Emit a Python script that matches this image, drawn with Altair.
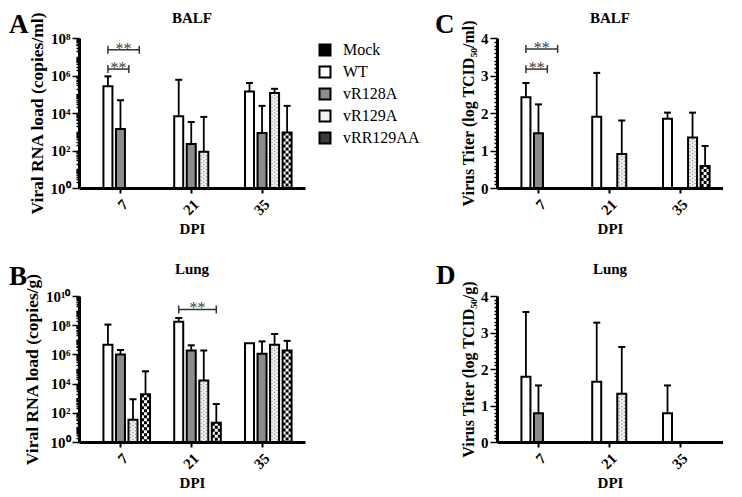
import altair as alt
import pandas as pd

GROUPS = ["Mock", "WT", "vR128A", "vR129A", "vRR129AA"]
FILLS = ["black", "white", "#8c8c8c", "#f0f0f0", "#3a3a3a"]
DPI_LABELS = ["7", "21", "35"]

# Panel A: BALF, viral RNA load (copies/ml)
A_dpi = ["7", "7", "21", "21", "21", "35", "35", "35", "35"]
A_group = ["WT", "vR128A", "WT", "vR128A", "vR129A", "WT", "vR128A", "vR129A", "vRR129AA"]
A_mean = [2.7e5, 1.4e3, 6.8e3, 2.2e2, 85, 1.4e5, 850, 1.15e5, 920]
A_upper = [9e5, 4.8e4, 5.9e5, 3.3e3, 6.2e3, 4e5, 2.4e4, 1.95e5, 2.4e4]
A_brk_dpi = ["7", "7"]
A_brk_from = [1.0, 1.0]
A_brk_to = [2.67, 3.5]
A_brk_y = [2.2e6, 2.35e7]

# Panel B: Lung, viral RNA load (copies/g)
B_dpi = ["7"] * 4 + ["21"] * 4 + ["35"] * 4
B_group = ["WT", "vR128A", "vR129A", "vRR129AA"] * 3
B_mean = [4.6e6, 1e6, 33, 1.85e3, 1.7e8, 1.85e6, 1.6e4, 21, 5.7e6, 1.1e6, 4.6e6, 1.85e6]
B_upper = [1.1e8, 2e6, 850, 7e4, 3.1e8, 4.2e6, 1.85e6, 400, 5.7e6, 7.8e6, 2.5e7, 8.5e6]
B_brk_dpi = ["21"]
B_brk_from = [1.0]
B_brk_to = [4.0]
B_brk_y = [1.2e9]

# Panel C: BALF, virus titer
C_dpi = ["7", "7", "21", "21", "35", "35", "35"]
C_group = ["WT", "vR128A", "WT", "vR129A", "WT", "vR129A", "vRR129AA"]
C_mean = [2.42, 1.46, 1.90, 0.91, 1.85, 1.35, 0.59]
C_upper = [2.80, 2.23, 3.07, 1.80, 2.01, 2.01, 1.12]
C_brk_dpi = ["7", "7"]
C_brk_from = [1.0, 1.0]
C_brk_to = [2.71, 3.53]
C_brk_y = [3.17, 3.71]

# Panel D: Lung, virus titer
D_dpi = ["7", "7", "21", "21", "35"]
D_group = ["WT", "vR128A", "WT", "vR129A", "WT"]
D_mean = [1.79, 0.79, 1.65, 1.32, 0.79]
D_upper = [3.56, 1.55, 3.27, 2.60, 1.55]

FONT = "Liberation Serif"
W = 226
H_TOP, H_BOT = 150, 146
BAR_W = 9
GROUP_STEP = 5.65
XDOM = [-0.91, 16.33]
SLOT = {g: i for i, g in enumerate(GROUPS)}


def pos(d, slot):
    return DPI_LABELS.index(d) * GROUP_STEP + slot


def bar_frame(dpis, groups, means, uppers, base):
    df = pd.DataFrame({"dpi": dpis, "group": groups, "mean": means, "upper": uppers})
    df["pos"] = [pos(d, SLOT[g]) for d, g in zip(dpis, groups)]
    df["base"] = base
    return df


def brk_frame(dpis, starts, ends, ys):
    df = pd.DataFrame({"dpi": dpis, "start": starts, "end": ends, "y": ys})
    df["x1"] = [pos(d, s) for d, s in zip(dpis, starts)]
    df["x2"] = [pos(d, e) for d, e in zip(dpis, ends)]
    df["mid"] = (df["x1"] + df["x2"]) / 2
    df["stars"] = "**"
    return df


centers = [pos(d, 2) for d in DPI_LABELS]
TICKS = pd.DataFrame({"c": centers, "lab": DPI_LABELS})

X_AXIS = alt.Axis(values=centers, labels=False, tickSize=5, tickWidth=2, domainWidth=3,
                  titleFontSize=15, titlePadding=27, grid=False, title="DPI")


def log_axis(max_exp, title):
    vals = []
    for k in range(max_exp):
        for m in range(1, 10):
            vals.append(m * 10 ** k)
    vals.append(10 ** max_exp)
    sup = "⁰¹²³⁴⁵⁶⁷⁸⁹"
    labs = ["10" + "".join(sup[int(c)] for c in str(e)) for e in range(max_exp + 1)]
    arr = "[" + ",".join(f"'{l}'" for l in labs) + "]"
    e = "log(datum.value)/LN10"
    dec = f"abs({e} - round({e})) < 0.001"
    lab = f"({dec}) && (round({e}) % 2 == 0)"
    return alt.Axis(values=vals, labelExpr=f"{lab} ? {arr}[round({e})] : ''",
                    tickSize={"condition": {"test": lab, "value": 7}, "value": 3},
                    tickWidth=1.5, domainWidth=3, labelFontSize=15, labelOverlap=False,
                    labelPadding=2, titleFontSize=17.5, titlePadding=4, grid=False, title=title)


def lin_axis(title):
    vals = [round(i * 0.1, 1) for i in range(41)]
    lab = "abs(datum.value - round(datum.value)) < 0.001"
    return alt.Axis(values=vals, labelExpr=f"{lab} ? format(datum.value, 'd') : ''",
                    tickSize={"condition": {"test": lab, "value": 7}, "value": 3},
                    tickWidth=1.5, domainWidth=3, labelFontSize=15, labelOverlap=False,
                    labelPadding=2, titleFontSize=16, titlePadding=4, grid=False, title=title)


def panel(df, brk, yscale, yaxis, H, letter, letter_xy, name, name_y, legend):
    def X(f):
        return alt.X(f, type="quantitative", scale=alt.Scale(domain=XDOM, nice=False, zero=False), axis=X_AXIS)

    def Y(f):
        return alt.Y(f, type="quantitative", scale=yscale, axis=yaxis)

    base = alt.Chart(df)
    color = alt.Color("group:N", scale=alt.Scale(domain=GROUPS, range=FILLS), legend=legend)
    layers = [base.mark_bar(width=BAR_W, strokeWidth=0).encode(x=X("pos"), y=Y("mean"), y2="base:Q", color=color)]

    chk = base.transform_filter(alt.datum.group == "vRR129AA")
    layers.append(chk.mark_rule(color="white", strokeWidth=BAR_W).encode(x=X("pos"), y=Y("mean"), y2="base:Q"))
    for off, doff in [(-3, 0), (0, 3), (3, 0)]:
        layers.append(chk.mark_rule(color="black", strokeWidth=3, strokeDash=[3, 3],
                                    strokeDashOffset=doff, xOffset=off)
                      .encode(x=X("pos"), y=Y("mean"), y2="base:Q"))
    dots = base.transform_filter(alt.datum.group == "vR129A")
    for off, doff in [(-2.5, 0), (0, 1.75), (2.5, 0)]:
        layers.append(dots.mark_rule(color="#6a6a6a", strokeWidth=1, strokeDash=[1, 2.5],
                                     strokeDashOffset=doff, xOffset=off)
                      .encode(x=X("pos"), y=Y("mean"), y2="base:Q"))

    layers.append(base.mark_bar(width=BAR_W, fill="white", fillOpacity=0, stroke="black", strokeWidth=2)
                  .encode(x=X("pos"), y=Y("mean"), y2="base:Q"))

    err = base.transform_filter(alt.datum.upper > alt.datum.mean)
    layers.append(err.mark_rule(color="black", strokeWidth=1.8).encode(x=X("pos"), y=Y("mean"), y2="upper:Q"))
    layers.append(err.mark_tick(orient="horizontal", size=7, thickness=2, color="black", opacity=1)
                  .encode(x=X("pos"), y=Y("upper")))

    if brk is not None:
        b = alt.Chart(brk)
        layers.append(b.mark_rule(color="#333333", strokeWidth=1.5).encode(x=X("x1"), x2="x2:Q", y=Y("y")))
        layers.append(b.mark_tick(orient="vertical", size=8, thickness=1.5, color="#333333", opacity=1)
                      .encode(x=X("x1"), y=Y("y")))
        layers.append(b.mark_tick(orient="vertical", size=8, thickness=1.5, color="#333333", opacity=1)
                      .encode(x=X("x2"), y=Y("y")))
        layers.append(b.mark_text(font=FONT, fontSize=16, color="#404040", baseline="alphabetic", dy=4)
                      .encode(x=X("mid"), y=Y("y"), text="stars:N"))

    # rotated DPI tick labels
    layers.append(alt.Chart(TICKS)
                  .mark_text(font=FONT, fontSize=15, fontWeight="bold", angle=315, align="right",
                             baseline="top", color="black")
                  .encode(x=X("c"), y=alt.value(H + 9), text="lab:N"))

    layers.append(alt.Chart(pd.DataFrame({"t": [letter]}))
                  .mark_text(font=FONT, fontSize=27, fontWeight="bold", align="left", baseline="alphabetic", color="black")
                  .encode(text="t:N", x=alt.value(letter_xy[0]), y=alt.value(letter_xy[1])))
    layers.append(alt.Chart(pd.DataFrame({"t": [name]}))
                  .mark_text(font=FONT, fontSize=15, fontWeight="bold", align="center", baseline="middle", color="black")
                  .encode(text="t:N", x=alt.value(W / 2), y=alt.value(name_y)))
    return alt.layer(*layers).properties(width=W, height=H)


legendA = alt.Legend(orient="none", legendX=238, legendY=4, title=None, symbolType="square",
                     symbolSize=121, symbolStrokeColor="black", symbolStrokeWidth=2, symbolOpacity=1,
                     labelFont=FONT, labelFontSize=16, labelFontWeight="normal", labelColor="black",
                     labelOffset=10, rowPadding=2, padding=0)

pA = panel(bar_frame(A_dpi, A_group, A_mean, A_upper, 1),
           brk_frame(A_brk_dpi, A_brk_from, A_brk_to, A_brk_y),
           alt.Scale(type="log", domain=[1, 1e8], nice=False), log_axis(8, "Viral RNA load (copies/ml)"), H_TOP,
           "A", (-70, -5), "BALF", -20, legendA)
pB = panel(bar_frame(B_dpi, B_group, B_mean, B_upper, 1),
           brk_frame(B_brk_dpi, B_brk_from, B_brk_to, B_brk_y),
           alt.Scale(type="log", domain=[1, 1e10], nice=False), log_axis(10, "Viral RNA load (copies/g)"), H_BOT,
           "B", (-70, -11), "Lung", -27, None)
pC = panel(bar_frame(C_dpi, C_group, C_mean, C_upper, 0),
           brk_frame(C_brk_dpi, C_brk_from, C_brk_to, C_brk_y),
           alt.Scale(domain=[0, 4], nice=False), lin_axis("Virus Titer (log TCID₅₀/ml)"), H_TOP,
           "C", (-62, -5), "BALF", -20, None)
pD = panel(bar_frame(D_dpi, D_group, D_mean, D_upper, 0), None,
           alt.Scale(domain=[0, 4], nice=False), lin_axis("Virus Titer (log TCID₅₀/g)"), H_BOT,
           "D", (-61, -12), "Lung", -27, None)

chart = (alt.concat(pA, pC, pB, pD, columns=2, spacing={"row": 26, "column": 15})
         .resolve_scale(color="independent")
         .properties(padding={"top": 3, "left": 1, "right": 0, "bottom": 2}, background="white")
         .configure_view(stroke=None)
         .configure_axis(labelFont=FONT, titleFont=FONT, labelFontWeight="bold", titleFontWeight="bold",
                         labelColor="black", titleColor="black", domainColor="black", tickColor="black"))

chart.save("out.html", embed_options={"renderer": "svg", "actions": False})
